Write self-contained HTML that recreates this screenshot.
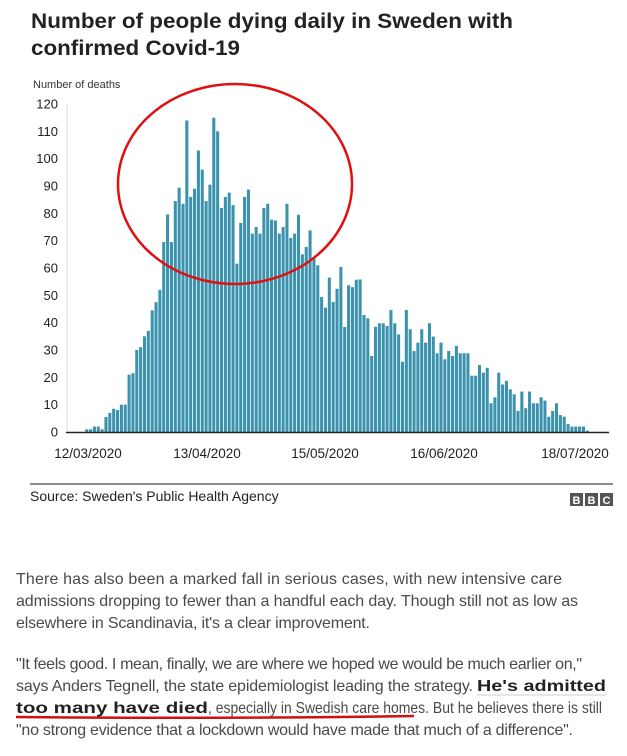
<!DOCTYPE html>
<html><head><meta charset="utf-8"><style>
html,body{margin:0;padding:0;background:#fff;}
svg{display:block;}
</style></head><body>
<svg width="627" height="756" viewBox="0 0 627 756" xmlns="http://www.w3.org/2000/svg" font-family="'Liberation Sans', Arial, sans-serif">
<rect width="627" height="756" fill="#fff"/>
<text x="31" y="28" font-size="21" font-weight="bold" fill="#222" textLength="482" lengthAdjust="spacingAndGlyphs">Number of people dying daily in Sweden with</text>
<text x="31" y="55" font-size="21" font-weight="bold" fill="#222" textLength="209" lengthAdjust="spacingAndGlyphs">confirmed Covid-19</text>
<text x="33" y="88" font-size="11" fill="#333">Number of deaths</text>
<line x1="67" y1="104" x2="67" y2="432" stroke="#ddd" stroke-width="1"/>
<g font-size="13" fill="#222" text-anchor="end" id="yl"></g>
<g id="bars" fill="#3a92ad"></g>
<line x1="66" y1="432.5" x2="609" y2="432.5" stroke="#222" stroke-width="1.5"/>
<g font-size="13.5" fill="#222" text-anchor="middle">
<text x="88" y="458">12/03/2020</text>
<text x="207" y="458">13/04/2020</text>
<text x="325" y="458">15/05/2020</text>
<text x="444" y="458">16/06/2020</text>
<text x="575" y="458">18/07/2020</text>
</g>
<ellipse cx="235" cy="184" rx="117" ry="100" fill="none" stroke="#e01010" stroke-width="2.5"/>
<line x1="30" y1="484" x2="613" y2="484" stroke="#666" stroke-width="1.5"/>
<text x="30" y="501" font-size="14" fill="#222">Source: Sweden's Public Health Agency</text>
<g fill="#555"><rect x="570" y="493" width="13" height="13"/><rect x="585" y="493" width="13" height="13"/><rect x="600" y="493" width="13" height="13"/></g>
<g fill="#fff" font-size="11" font-weight="bold" text-anchor="middle"><text x="576.5" y="504">B</text><text x="591.5" y="504">B</text><text x="606.5" y="504">C</text></g>
<g font-size="16" fill="#4a4a4a">
<text x="16" y="584" textLength="546" lengthAdjust="spacing">There has also been a marked fall in serious cases, with new intensive care</text>
<text x="16" y="606" textLength="562" lengthAdjust="spacing">admissions dropping to fewer than a handful each day. Though still not as low as</text>
<text x="16" y="628" textLength="354" lengthAdjust="spacing">elsewhere in Scandinavia, it's a clear improvement.</text>
<text x="16" y="669" textLength="566" lengthAdjust="spacing">"It feels good. I mean, finally, we are where we hoped we would be much earlier on,"</text>
<text x="16" y="691" textLength="457" lengthAdjust="spacing">says Anders Tegnell, the state epidemiologist leading the strategy.</text>
<text x="477" y="691" textLength="129" lengthAdjust="spacingAndGlyphs" font-weight="bold" fill="#222">He's admitted</text>
<text x="16" y="713" textLength="192" lengthAdjust="spacingAndGlyphs" font-weight="bold" fill="#222">too many have died</text>
<text x="208" y="713" textLength="394" lengthAdjust="spacingAndGlyphs">, especially in Swedish care homes. But he believes there is still</text>
<text x="16" y="735" textLength="557" lengthAdjust="spacing">"no strong evidence that a lockdown would have made that much of a difference".</text>
</g>
<line x1="477" y1="695" x2="606" y2="695" stroke="#ccc" stroke-width="1"/>
<path d="M16 717 Q215 719 414 716" stroke="#d01010" stroke-width="2.5" fill="none"/>
</svg>
<script>
var v=[1,1,2,2,1,5.5,7,8.5,8,10,10,21,21.5,30,31,35,37,44.5,47.5,52,
69.5,79.6,69.5,84.5,89.4,83.5,114,86,89,103,96,84.5,90.5,115,110,82,86,87.6,83,61.6,76.5,86,88.7,72.6,75,72.6,82,83.5,77.7,77.4,72.6,75,83.5,71,72.6,79.5,
65,67.7,73.8,63.4,61,49.4,45.5,56.5,47.6,52.4,60.4,38.4,53.7,53,55.7,
55.8,42.8,41.6,27.8,38.5,39.8,39.8,38.8,44.6,39.8,35.7,25.7,44.6,37.6,29.6,32.7,37.6,32.7,39.8,34.9,28.8,32.7,26.6,29.6,27.8,31.5,28.8,28.8,28.8,20.6,20.6,24.5,21.7,23.5,10.5,12.7,21.7,17.4,18.7,15.6,13.8,7.7,14.8,8.7,14.8,10.5,10.5,12.7,11.5,5.6,7.7,10.5,6.2,5.6,2.9,2,2,2,2,0.5];
var ns="http://www.w3.org/2000/svg",g=document.getElementById("bars"),k=2.733;
var step=(587.3-86.7)/(v.length-1);
for(var i=0;i<v.length;i++){var r=document.createElementNS(ns,"rect");var h=v[i]*k;
r.setAttribute("x",(85.2+step*i).toFixed(2));r.setAttribute("y",(432-h).toFixed(2));
r.setAttribute("width","3.05");r.setAttribute("height",h.toFixed(2));g.appendChild(r);}
var yl=document.getElementById("yl");
for(var t=0;t<=120;t+=10){var tx=document.createElementNS(ns,"text");tx.setAttribute("x","58");
tx.setAttribute("y",(432-t*k+4.5).toFixed(1));tx.textContent=t;yl.appendChild(tx);}
</script>
</body></html>
